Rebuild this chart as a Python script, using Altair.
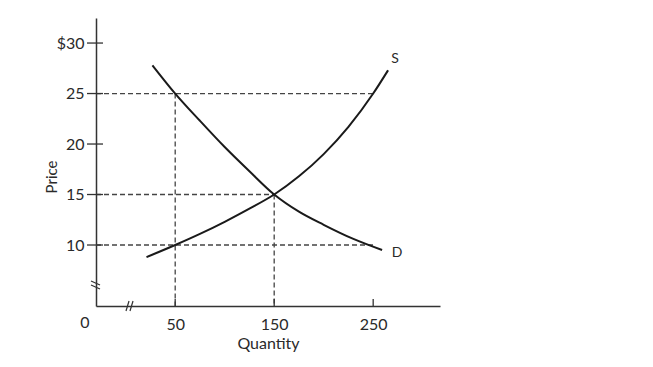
import altair as alt
import pandas as pd

# ---- data ----
demand_q = [27, 50, 75, 100, 125, 150, 175, 200, 230, 259]
demand_p = [27.8, 25.0, 22.3, 19.7, 17.3, 15.0, 13.3, 12.0, 10.6, 9.5]
supply_q = [21, 50, 75, 100, 125, 150, 175, 200, 225, 250, 265]
supply_p = [8.8, 10.0, 11.1, 12.3, 13.6, 15.0, 16.8, 19.0, 21.7, 25.0, 27.3]

# reference points for dashed guides
guide_q = [250, 150, 250]
guide_p = [25, 15, 10]
vguide_q = [50, 150]
vguide_p = [25, 15]

x_ticks = [50, 150, 250]
y_ticks = [10, 15, 20, 25, 30]

X_MIN, X_MAX = -30, 317.5
Y_MIN, Y_MAX = 3.96, 32.48
W, H = 344, 288
FONT = "Lato"
TXT = "#2a2a2a"
AX = "#333333"

curves = pd.DataFrame(
    [{"q": q, "p": p, "curve": "D", "o": i} for i, (q, p) in enumerate(zip(demand_q, demand_p))]
    + [{"q": q, "p": p, "curve": "S", "o": i} for i, (q, p) in enumerate(zip(supply_q, supply_p))]
)

hg = pd.DataFrame({"x": [X_MIN] * len(guide_q), "x2": guide_q, "y": guide_p})
vg = pd.DataFrame({"x": vguide_q, "y": vguide_p, "y2": [Y_MIN] * len(vguide_q)})

xs = alt.Scale(domain=[X_MIN, X_MAX], nice=False, zero=False)
ys = alt.Scale(domain=[Y_MIN, Y_MAX], nice=False, zero=False)

x_axis = alt.Axis(values=x_ticks, ticks=False, tickSize=0, grid=False, domainColor=AX,
                  domainWidth=1.5, labelFont=FONT, labelFontSize=16, labelColor=TXT,
                  labelPadding=10, title="Quantity", titleFont=FONT, titleFontSize=16,
                  titleFontWeight="normal", titleColor=TXT, titlePadding=3)
y_axis = alt.Axis(values=y_ticks, ticks=False, tickSize=0, grid=False, domainColor=AX,
                  domainWidth=1.5, labelFont=FONT, labelFontSize=16, labelColor=TXT,
                  labelPadding=12, labelExpr="datum.value == 30 ? '$30' : datum.label",
                  title=None)

base_axes = alt.Chart(pd.DataFrame({"q": [X_MIN], "p": [Y_MIN]})).mark_point(opacity=0).encode(
    x=alt.X("q:Q", scale=xs, axis=x_axis),
    y=alt.Y("p:Q", scale=ys, axis=y_axis),
)

hlines = alt.Chart(hg).mark_rule(strokeDash=[5, 3], color="#444444", strokeWidth=1.3).encode(
    x=alt.X("x:Q", scale=xs), x2="x2:Q", y=alt.Y("y:Q", scale=ys)
)
vlines = alt.Chart(vg).mark_rule(strokeDash=[5, 3], color="#444444", strokeWidth=1.3).encode(
    x=alt.X("x:Q", scale=xs), y=alt.Y("y:Q", scale=ys), y2="y2:Q"
)

lines = alt.Chart(curves).mark_line(interpolate="monotone", color="#1a1a1a", strokeWidth=2).encode(
    x=alt.X("q:Q", scale=xs), y=alt.Y("p:Q", scale=ys), detail="curve:N", order="o:Q"
)

ytick = alt.Chart(pd.DataFrame({"p": y_ticks})).mark_rule(color=AX, strokeWidth=1.3).encode(
    y=alt.Y("p:Q", scale=ys), x=alt.value(-9), x2=alt.value(7)
)
xtick = alt.Chart(pd.DataFrame({"q": x_ticks})).mark_rule(color=AX, strokeWidth=1.3).encode(
    x=alt.X("q:Q", scale=xs), y=alt.value(H - 7), y2=alt.value(H)
)

end_s = pd.DataFrame({"q": [supply_q[-1]], "p": [supply_p[-1]], "t": ["S"]})
end_d = pd.DataFrame({"q": [demand_q[-1]], "p": [demand_p[-1]], "t": ["D"]})
lab_s = alt.Chart(end_s).mark_text(font=FONT, fontSize=14, color=TXT, dx=7, dy=-11).encode(
    x=alt.X("q:Q", scale=xs), y=alt.Y("p:Q", scale=ys), text="t:N")
lab_d = alt.Chart(end_d).mark_text(font=FONT, fontSize=14, color=TXT, dx=15, dy=3).encode(
    x=alt.X("q:Q", scale=xs), y=alt.Y("p:Q", scale=ys), text="t:N")

price_title = alt.Chart(pd.DataFrame({"t": ["Price"]})).mark_text(
    font=FONT, fontSize=15, color=TXT, angle=270).encode(
    x=alt.value(-44), y=alt.value(159), text="t:N")
zero = alt.Chart(pd.DataFrame({"t": ["0"]})).mark_text(font=FONT, fontSize=16, color=TXT).encode(
    x=alt.value(-11), y=alt.value(H + 17), text="t:N")

# axis-break marks (two short slashes on each axis)
xb1 = alt.Chart(pd.DataFrame({"k": [0]})).mark_rule(color=AX, strokeWidth=1.2).encode(
    x=alt.value(30), x2=alt.value(33), y=alt.value(H + 5), y2=alt.value(H - 5))
xb2 = alt.Chart(pd.DataFrame({"k": [0]})).mark_rule(color=AX, strokeWidth=1.2).encode(
    x=alt.value(34), x2=alt.value(37), y=alt.value(H + 5), y2=alt.value(H - 5))
yb1 = alt.Chart(pd.DataFrame({"k": [0]})).mark_rule(color=AX, strokeWidth=1.2).encode(
    x=alt.value(-5), x2=alt.value(4), y=alt.value(H - 25), y2=alt.value(H - 21))
yb2 = alt.Chart(pd.DataFrame({"k": [0]})).mark_rule(color=AX, strokeWidth=1.2).encode(
    x=alt.value(-5), x2=alt.value(4), y=alt.value(H - 21), y2=alt.value(H - 17))

chart = alt.layer(base_axes, hlines, vlines, lines, ytick, xtick, lab_s, lab_d,
                  price_title, zero, xb1, xb2, yb1, yb2).properties(
    width=W, height=H,
    background="white",
    autosize=alt.AutoSizeParams(type="none"),
    padding={"left": 88, "top": 10, "right": 20, "bottom": 50},
).configure_view(stroke=None)

chart.save("out.html", embed_options={"renderer": "svg", "actions": False})
